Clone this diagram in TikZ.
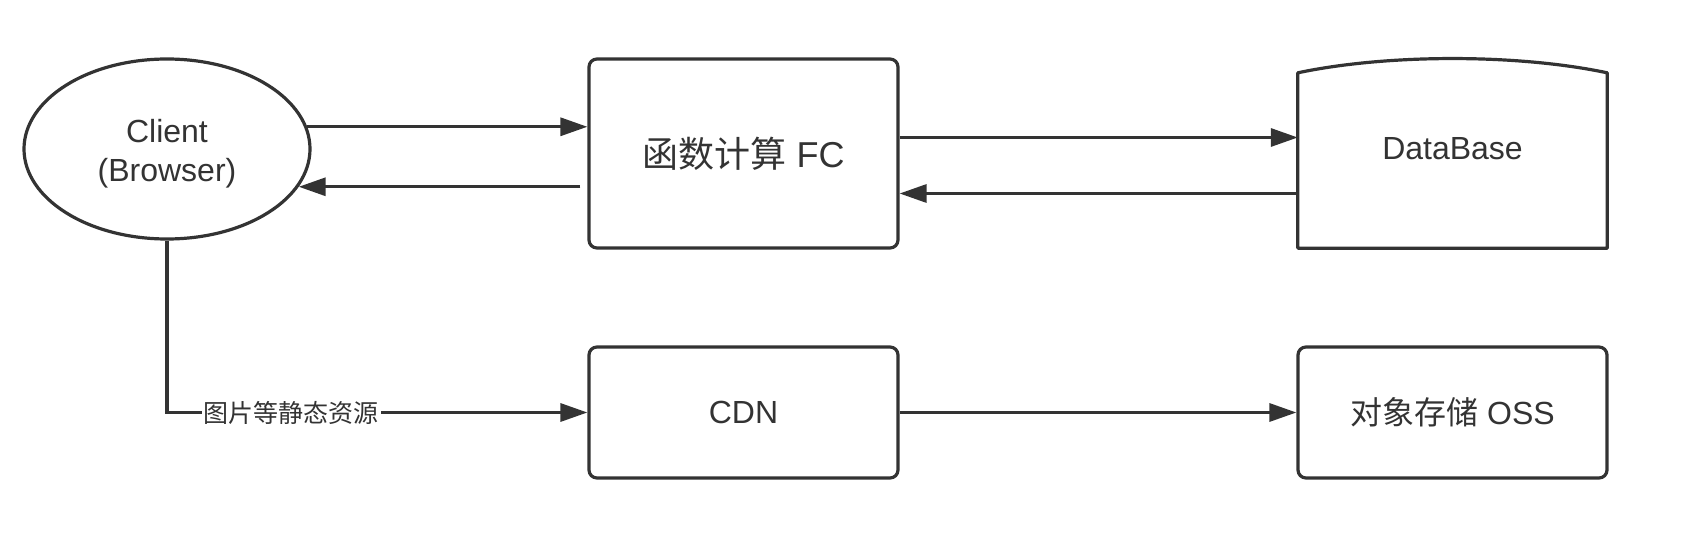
\documentclass[tikz,border=0pt]{standalone}
\usepackage{fontspec}
\setmainfont{Liberation Sans}
\newfontfamily\cjk{Noto Sans CJK SC}
\usetikzlibrary{arrows.meta,shapes.geometric}
\definecolor{ink}{HTML}{333333}
\begin{document}
\begin{tikzpicture}[
        x=1pt, y=1pt,
        every node/.style={text=ink, font=\fontsize{32}{39}\selectfont},
        box/.style={draw=ink, line width=3.2pt, rounded corners=8pt, minimum width=309pt, inner sep=0pt},
        client/.style={draw=ink, line width=3.2pt, ellipse, minimum width=286pt, minimum height=180pt, inner sep=0pt},
        flow/.style={draw=ink, line width=3.2pt, -{Triangle[length=27pt, width=18pt]}},
    ]
    \useasboundingbox (0,0) rectangle (1686,536);
    \node[client](cl) at (167,387){};
    \node[align=center](cltext) at ([yshift=-5pt]cl.center){Client\\(Browser)};
    \node[box, minimum height=189pt, font=\fontsize{36}{42}\selectfont](fc) at (743.5,382.5){{\cjk 函数计算} FC};
    \node[minimum width=309pt, minimum height=189pt, inner sep=0pt](db) at (1452.5,382.5){};
    \node(dbtext) at ([yshift=5pt]db.center){DataBase};
    \node[box, minimum height=131pt](cdn) at (743.5,123.5){CDN};
    \node[box, minimum height=131pt](oss) at (1452.5,123.5){{\cjk 对象存储} OSS};
    \draw[draw=ink, line width=3.2pt, line join=round] (db.south west) -- ([yshift=-14pt]db.north west)
        .. controls ([xshift=90pt,yshift=5pt]db.north west) and ([xshift=-90pt,yshift=5pt]db.north east) .. ([yshift=-14pt]db.north east)
        -- (db.south east) -- cycle;
    \draw[flow] (cl.9.5) -- (cl.9.5 -| fc.west);
    \draw[flow, shorten <=7pt] (fc.west |- cl.-16) -- (cl.-16);
    \draw[flow] ([yshift=16pt]fc.east) -- ([yshift=16pt]fc.east -| db.west);
    \draw[flow] ([yshift=-40pt]db.west) -- ([yshift=-40pt]db.west -| fc.east);
    \draw[flow] (cl.south) |- node[pos=0.648, fill=white, inner sep=2pt, font=\cjk\fontsize{25}{30}\selectfont]{图片等静态资源} (cdn.west);
    \draw[flow] (cdn) -- (oss);
\end{tikzpicture}
\end{document}
